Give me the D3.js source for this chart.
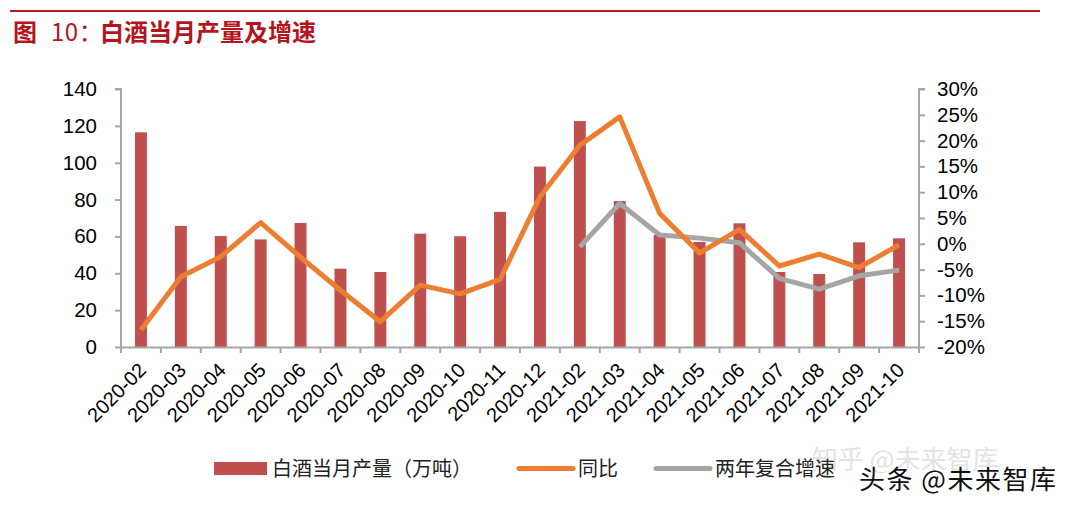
<!DOCTYPE html>
<html><head><meta charset="utf-8">
<script src="https://cdn.jsdelivr.net/npm/d3@7"></script>
<style>
body{margin:0;background:#fff;}
svg{display:block;}
</style></head>
<body>
<svg id="c" width="1071" height="508"></svg>
<script>
const categories = ["2020-02","2020-03","2020-04","2020-05","2020-06","2020-07","2020-08","2020-09","2020-10","2020-11","2020-12","2021-02","2021-03","2021-04","2021-05","2021-06","2021-07","2021-08","2021-09","2021-10"];
const output = [116.5,65.7,60.2,58.4,67.3,42.5,40.7,61.5,60.1,73.3,97.9,122.6,79.2,60.8,57.0,67.1,40.7,39.6,56.8,59.0];
const yoy = [-16.7,-6.4,-2.5,4.1,-2.6,-9.0,-15.1,-8.0,-9.7,-6.9,9.1,19.1,24.6,5.9,-1.8,2.8,-4.3,-2.0,-4.6,-0.2];
const cagr2y = [null,null,null,null,null,null,null,null,null,null,null,-0.6,7.8,1.7,1.1,0.2,-6.7,-8.8,-6.2,-5.1];
const leftTicks = [0,20,40,60,80,100,120,140];
const rightTicks = [-20,-15,-10,-5,0,5,10,15,20,25,30];
const legendLabels = ["白酒当月产量（万吨）","同比","两年复合增速"];
const titleParts = ["图","10：","白酒当月产量及增速"];

const svg = d3.select("#c");
const L = 121, R = 919, T = 89, B = 347;
const axisColor = "#a6a6a6";
const numFont = "'Liberation Sans', Arial, sans-serif";
const cjkFont = "'Noto Sans CJK SC', 'Noto Sans', sans-serif";

// title
svg.append("line").attr("x1",10).attr("x2",1040).attr("y1",11).attr("y2",11)
  .attr("stroke","#b01c22").attr("stroke-width",2);
const tt = svg.append("text").attr("y",41)
  .attr("font-family",cjkFont).attr("font-weight","bold").attr("font-size",24)
  .attr("fill","#b5141c");
tt.append("tspan").attr("x",13).text(titleParts[0]);
tt.append("tspan").attr("x",51).attr("font-weight","normal").attr("letter-spacing",0.5).text(titleParts[1]);
tt.append("tspan").attr("x",100).text(titleParts[2]);

const x = d3.scaleBand().domain(categories).range([L,R]).paddingInner(0.7).paddingOuter(0.35);
const yL = d3.scaleLinear().domain([0,140]).range([B,T]);
const yR = d3.scaleLinear().domain([-20,30]).range([B,T]);

// bars
svg.append("g").selectAll("rect").data(categories).join("rect")
  .attr("x",d=>x(d)).attr("width",x.bandwidth())
  .attr("y",(d,i)=>yL(output[i])).attr("height",(d,i)=>B-yL(output[i]))
  .attr("fill","#c0504d");

// axes
const gL = svg.append("g").attr("transform",`translate(${L},0)`)
  .call(d3.axisLeft(yL).tickValues(leftTicks).tickSize(6).tickPadding(18).tickFormat(d3.format("d")));
const gR = svg.append("g").attr("transform",`translate(${R},0)`)
  .call(d3.axisRight(yR).tickValues(rightTicks).tickSize(6).tickPadding(12).tickFormat(d=>d+"%"));
const xEdge = d3.scaleLinear().domain([0,categories.length]).range([L,R]);
const gX = svg.append("g").attr("transform",`translate(0,${B})`)
  .call(d3.axisBottom(x).tickSize(0).tickPadding(0).tickFormat(""));
svg.append("g").selectAll("line").data(d3.range(categories.length+1)).join("line")
  .attr("x1",d=>xEdge(d)).attr("x2",d=>xEdge(d)).attr("y1",B).attr("y2",B+6)
  .attr("stroke",axisColor).attr("stroke-width",2);
[gL,gR,gX].forEach(g=>{
  g.select(".domain").attr("stroke",axisColor).attr("stroke-width",2);
  g.selectAll(".tick line").attr("stroke",axisColor).attr("stroke-width",2);
  g.selectAll(".tick text").attr("font-family",numFont).attr("font-size",20.5).attr("fill","#000");
});
gL.select(".domain").attr("d",`M-6,${T}H0V${B}`);
gR.select(".domain").attr("d",`M6,${T}H0V${B}`);

// x labels
svg.append("g").selectAll("text").data(categories).join("text")
  .attr("transform",d=>`translate(${x(d)+x.bandwidth()/2-2},${B+16}) rotate(-45)`)
  .attr("text-anchor","end").attr("dy","0.6em")
  .attr("font-family",numFont).attr("font-size",20).attr("fill","#000").text(d=>d);

// lines
const line = d3.line().defined(d=>d.v!==null).x(d=>x(d.c)+x.bandwidth()/2).y(d=>yR(d.v));
svg.append("path").datum(categories.map((c,i)=>({c,v:cagr2y[i]})))
  .attr("d",line).attr("fill","none").attr("stroke","#a5a5a5").attr("stroke-width",5).attr("stroke-linejoin","round");
svg.append("path").datum(categories.map((c,i)=>({c,v:yoy[i]})))
  .attr("d",line).attr("fill","none").attr("stroke","#ed7d31").attr("stroke-width",5).attr("stroke-linejoin","round");

// watermark (faint, behind legend)
svg.append("text").attr("x",812).attr("y",469).text("知乎 @未来智库")
  .attr("font-family",cjkFont).attr("font-size",26).attr("fill","#e3e3e3");

// legend
const lg = svg.append("g").attr("font-family",cjkFont).attr("font-size",20).attr("fill","#222");
lg.append("rect").attr("x",214).attr("y",462).attr("width",53).attr("height",13).attr("fill","#c0504d");
lg.append("text").attr("x",272).attr("y",476).text(legendLabels[0]);
lg.append("line").attr("x1",519).attr("x2",573).attr("y1",468.5).attr("y2",468.5).attr("stroke","#ed7d31").attr("stroke-width",5).attr("stroke-linecap","round");
lg.append("text").attr("x",578).attr("y",476).text(legendLabels[1]);
lg.append("line").attr("x1",656).attr("x2",710).attr("y1",468.5).attr("y2",468.5).attr("stroke","#a5a5a5").attr("stroke-width",5).attr("stroke-linecap","round");
lg.append("text").attr("x",715).attr("y",476).text(legendLabels[2]);

svg.append("text").attr("x",859).attr("y",489).text("头条 @未来智库")
  .attr("font-family",cjkFont).attr("font-size",26).attr("letter-spacing",1.5).attr("fill","#111");
</script>
</body></html>
